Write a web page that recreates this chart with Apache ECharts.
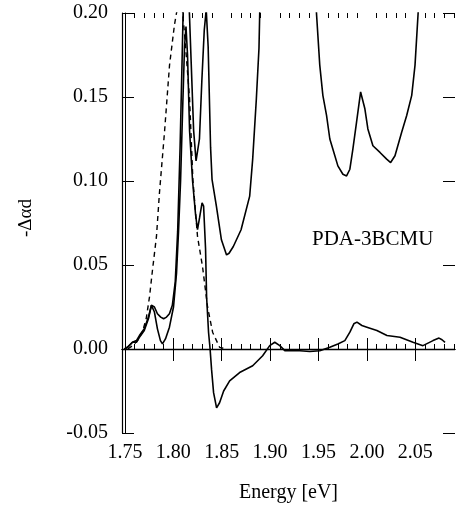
<!DOCTYPE html>
<html>
<head>
<meta charset="utf-8">
<script src="https://cdn.jsdelivr.net/npm/echarts@6/dist/echarts.min.js"></script>
<style>
html,body{margin:0;padding:0;background:#fff;}
#chart{width:456px;height:508px;}
</style>
</head>
<body>
<div id="chart"></div>
<script>
// ---- data ----
const lowerE = [1.7495,1.7526,1.7578,1.7619,1.765,1.770,1.7743,1.7774,1.7805,1.7836,1.7867,1.7888,1.7919,1.796,1.8002,1.8033,1.8054,1.8075,1.8095,1.8116,1.8131,1.8147,1.8168,1.8199,1.823,1.825,1.8271,1.8297,1.8313,1.8333,1.8344,1.8364,1.838,1.8395,1.8416,1.8447,1.8478,1.852,1.8582,1.8685,1.882,1.8923,1.8996,1.9048,1.910,1.9152,1.9203,1.9307,1.941,1.9513,1.9617,1.970,1.9772,1.9824,1.9865,1.9897,1.9948,2.000,2.0103,2.0207,2.0342,2.0476,2.0579,2.0683,2.0745,2.0776,2.0807];
const lowerV = [0.000,0.001,0.004,0.004,0.007,0.011,0.018,0.026,0.022,0.012,0.005,0.003,0.006,0.013,0.025,0.045,0.070,0.100,0.140,0.180,0.192,0.175,0.130,0.100,0.080,0.071,0.078,0.087,0.085,0.060,0.031,0.010,0.000,-0.012,-0.026,-0.035,-0.032,-0.025,-0.019,-0.014,-0.010,-0.004,0.002,0.004,0.002,-0.001,-0.001,-0.001,-0.0015,-0.001,0.001,0.003,0.005,0.010,0.015,0.016,0.014,0.013,0.011,0.008,0.007,0.004,0.002,0.005,0.0065,0.0055,0.004];

const upperE = [1.7495,1.7526,1.7578,1.7619,1.765,1.770,1.7743,1.7774,1.7805,1.7836,1.787,1.790,1.793,1.796,1.799,1.802,1.8045,1.807,1.809,1.8105,1.813,1.816,1.8185,1.821,1.8235,1.825,1.827,1.8295,1.832,1.834,1.836,1.8385,1.840,1.8445,1.8497,1.855,1.8576,1.862,1.870,1.8789,1.882,1.8858,1.8885,1.890,1.92,1.946,1.948,1.9513,1.9545,1.9583,1.9617,1.9648,1.970,1.9752,1.979,1.9824,1.9855,1.9893,1.9935,1.9979,2.001,2.0062,2.0135,2.0204,2.0245,2.029,2.0359,2.0411,2.0463,2.0497,2.0528,2.055];
const upperV = [0.000,0.001,0.004,0.005,0.008,0.012,0.019,0.026,0.025,0.021,0.019,0.018,0.019,0.021,0.026,0.040,0.070,0.120,0.170,0.210,0.260,0.210,0.170,0.130,0.112,0.111,0.125,0.160,0.190,0.202,0.180,0.120,0.101,0.085,0.065,0.056,0.057,0.061,0.071,0.091,0.113,0.149,0.179,0.220,null,0.220,0.199,0.169,0.151,0.139,0.125,0.119,0.109,0.104,0.103,0.107,0.119,0.135,0.153,0.143,0.131,0.121,0.117,0.113,0.111,0.115,0.129,0.139,0.151,0.169,0.199,0.220];

const dashE = [1.753,1.758,1.763,1.768,1.772,1.7754,1.7785,1.7826,1.7857,1.7909,1.7961,1.8012,1.8033,1.806,1.809,1.812,1.8168,1.8202,1.825,1.8302,1.8354,1.8406,1.8478,1.855];
const dashV = [0.000,0.002,0.005,0.010,0.018,0.031,0.047,0.067,0.093,0.129,0.169,0.193,0.200,0.206,0.204,0.185,0.149,0.101,0.067,0.049,0.025,0.010,0.001,0.000];

const xMajorTicks = [1.75,1.80,1.85,1.90,1.95,2.00,2.05];
const xMinorTicks = [1.76,1.77,1.78,1.79,1.81,1.82,1.83,1.84,1.86,1.87,1.88,1.89,1.91,1.92,1.93,1.94,1.96,1.97,1.98,1.99,2.01,2.02,2.03,2.04,2.06,2.07,2.08,2.09];
const yTicks = [-0.05,0.00,0.05,0.10,0.15,0.20];
const xRange = [1.747, 2.091];
const sampleLabel = 'PDA-3BCMU';

// ---- build chart ----
const zip = (xs, ys) => xs.map((x, i) => [x, ys[i]]);
const FONT = 'Liberation Serif';
const black = '#000';

function xAxisDef(pos, ticks, len, opts) {
  return Object.assign({
    type: 'value', position: pos, min: xRange[0], max: xRange[1],
    axisLine: { show: false },
    splitLine: { show: false },
    axisTick: { show: true, inside: true, length: len, customValues: ticks, lineStyle: { color: black, width: 1 } },
    axisLabel: { show: false }
  }, opts || {});
}

const option = {
  animation: false,
  backgroundColor: '#fff',
  grid: { left: 122, right: 1, top: 13, bottom: 75, containLabel: false },
  xAxis: [
    xAxisDef('bottom', xMajorTicks, 11, {
      axisLine: { show: true, lineStyle: { color: black, width: 1.2 } },
      axisLabel: { show: true, customValues: xMajorTicks, formatter: v => v.toFixed(2), fontFamily: FONT, fontSize: 20, color: black, margin: 10 },
      name: 'Energy [eV]', nameLocation: 'middle', nameGap: 50,
      nameTextStyle: { fontFamily: FONT, fontSize: 20, color: black }
    }),
    xAxisDef('bottom', xMinorTicks, 5),
    xAxisDef('top', xMajorTicks, 12, { axisLine: { show: true, lineStyle: { color: black, width: 1.2 } } }),
    xAxisDef('top', xMinorTicks, 5)
  ],
  yAxis: [
    {
      type: 'value', min: -0.05, max: 0.20, interval: 0.05, position: 'left',
      axisLine: { show: true, lineStyle: { color: black, width: 1.2 } },
      splitLine: { show: false },
      axisTick: { show: true, inside: true, length: 12, customValues: yTicks, lineStyle: { color: black } },
      axisLabel: { show: true, customValues: yTicks, formatter: v => v.toFixed(2), fontFamily: FONT, fontSize: 20, color: black, margin: 14 },
      name: '-\u0394\u03b1d', nameLocation: 'middle', nameGap: 86, nameRotate: 90,
      nameTextStyle: { fontFamily: FONT, fontSize: 19, color: black, padding: [0, 0, 0, 10] }
    },
    {
      type: 'value', min: -0.05, max: 0.20, interval: 0.05, position: 'right',
      axisLine: { show: false },
      splitLine: { show: false },
      axisTick: { show: true, inside: true, length: 12, customValues: yTicks, lineStyle: { color: black } },
      axisLabel: { show: false }
    },
    {
      type: 'value', min: -0.05, max: 0.20, position: 'left', offset: -3,
      axisLine: { show: true, lineStyle: { color: black, width: 1 } },
      splitLine: { show: false }, axisTick: { show: false }, axisLabel: { show: false }
    }
  ],
  series: [
    {
      type: 'line', name: 'lower', data: zip(lowerE, lowerV), showSymbol: false, clip: true,
      lineStyle: { color: black, width: 1.6 },
      markLine: {
        silent: true, symbol: 'none', label: { show: false },
        lineStyle: { color: black, width: 1.3, type: 'solid' },
        data: [{ yAxis: 0 }]
      }
    },
    {
      type: 'line', name: 'upper', data: zip(upperE, upperV), showSymbol: false, clip: true, connectNulls: false,
      lineStyle: { color: black, width: 1.6 }
    },
    {
      type: 'line', name: 'dashed', data: zip(dashE, dashV), showSymbol: false, clip: true,
      lineStyle: { color: black, width: 1.4, type: [5, 4] }
    }
  ],
  graphic: [
    { type: 'text', left: 312, top: 229, style: { text: sampleLabel, font: '21px "Liberation Serif"', fill: black } }
  ]
};

const chart = echarts.init(document.getElementById('chart'), null, { renderer: 'canvas' });
chart.setOption(option);
</script>
</body>
</html>
